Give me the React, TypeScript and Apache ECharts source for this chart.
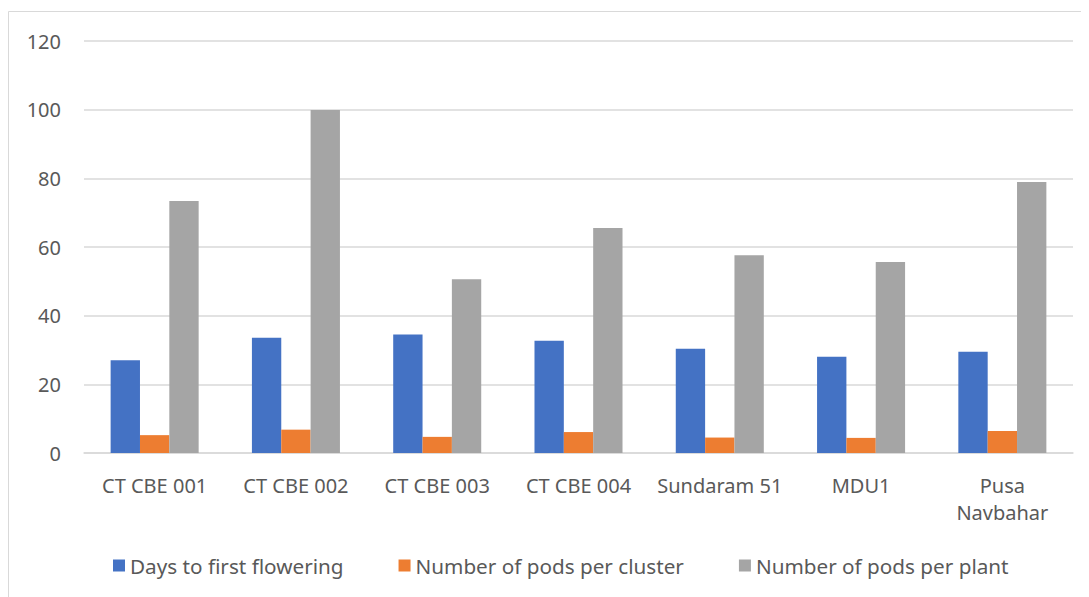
import React, { useEffect, useRef } from "react";
import * as echarts from "echarts";

const categories = ["CT CBE 001", "CT CBE 002", "CT CBE 003", "CT CBE 004", "Sundaram 51", "MDU1", "Pusa Navbahar"];
const daysToFirstFlowering = [27.0, 33.6, 34.5, 32.7, 30.4, 28.0, 29.5];
const podsPerCluster = [5.2, 6.8, 4.7, 6.1, 4.5, 4.4, 6.4];
const podsPerPlant = [73.4, 99.9, 50.6, 65.5, 57.6, 55.6, 78.9];
const seriesNames = ["Days to first flowering", "Number of pods per cluster", "Number of pods per plant"];
const colors = ["#4472C4", "#ED7D31", "#A5A5A5"];

const FONT = "Noto Sans";

export default function App() {
  const ref = useRef<HTMLDivElement>(null);
  useEffect(() => {
    if (!ref.current) return;
    const chart = echarts.init(ref.current, null, { renderer: "svg" });
    const values = [daysToFirstFlowering, podsPerCluster, podsPerPlant];
    chart.setOption({
      animation: false,
      backgroundColor: "#ffffff",
      textStyle: { fontFamily: FONT },
      graphic: [
        {
          type: "rect",
          shape: { x: 0.5, y: 3.5, width: 1100, height: 620 },
          style: { fill: "none", stroke: "#D9D9D9", lineWidth: 1 },
          silent: true,
        },
      ],
      grid: { left: 76, right: 16, top: 33, bottom: 144, containLabel: false },
      legend: {
        left: 100,
        top: 542,
        itemWidth: 12,
        itemHeight: 12,
        itemGap: 55,
        icon: "rect",
        textStyle: { color: "#595959", fontSize: 20.7, fontFamily: FONT },
        data: seriesNames,
      },
      xAxis: {
        type: "category",
        data: categories,
        axisLine: { lineStyle: { color: "#D9D9D9", width: 1.5 } },
        axisTick: { show: false },
        axisLabel: {
          color: "#595959",
          fontSize: 20,
          margin: 19,
          lineHeight: 27,
          interval: 0,
          formatter: (v: string) => (v === "Pusa Navbahar" ? "Pusa\nNavbahar" : v),
        },
      },
      yAxis: {
        type: "value",
        min: 0,
        max: 120,
        interval: 20,
        axisLine: { show: false },
        axisTick: { show: false },
        splitLine: { lineStyle: { color: "#D9D9D9", width: 1.5 } },
        axisLabel: { color: "#595959", fontSize: 20, margin: 23 },
      },
      series: seriesNames.map((name, i) => ({
        name,
        type: "bar",
        data: values[i],
        barGap: "0%",
        barCategoryGap: "37.7%",
        itemStyle: { color: colors[i] },
      })),
    });
    return () => chart.dispose();
  }, []);
  return <div ref={ref} style={{ width: 1081, height: 589 }} />;
}
